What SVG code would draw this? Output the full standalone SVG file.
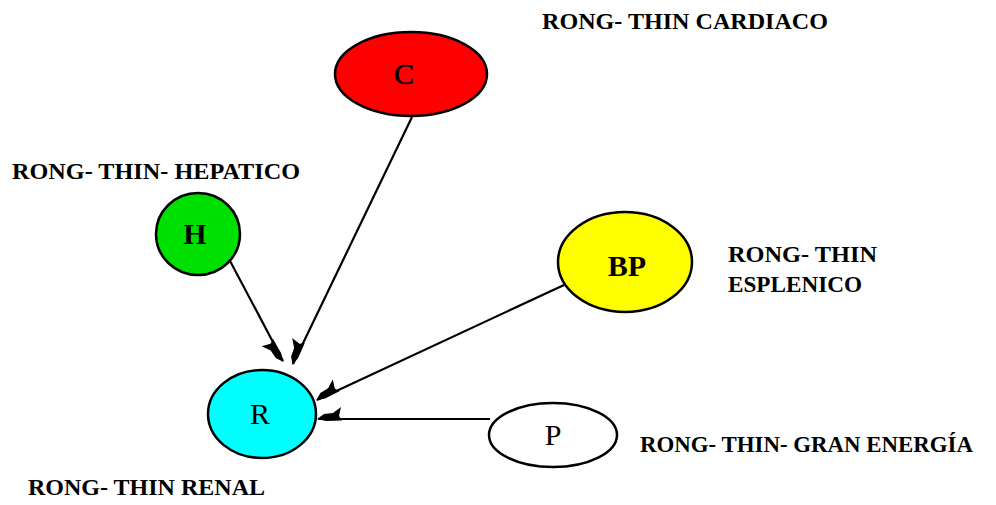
<svg xmlns="http://www.w3.org/2000/svg" width="996" height="505" viewBox="0 0 996 505">
  <style>
    .node { stroke: #000; stroke-width: 2.5; }
    .edge { stroke: #000; stroke-width: 2.2; fill: none; marker-end: url(#barb); }
    .lbl { font-family: "Liberation Serif", "Times New Roman", serif; font-weight: bold; font-size: 23px; fill: #000; }
    .ltr { font-family: "Liberation Serif", "Times New Roman", serif; font-size: 30px; fill: #000; text-anchor: middle; }
  </style>
  <defs>
    <!-- one-sided filled barb at the tip of each connector -->
    <marker id="barb" markerUnits="userSpaceOnUse" markerWidth="40" markerHeight="40" refX="0" refY="0" viewBox="-30 -15 40 30" orient="auto" overflow="visible">
      <path d="M1,0 L-6,5 L-15,6 L-23,12 L-21,3 L-24,-1.5 L-8,-2 Z" fill="#000"/>
    </marker>
  </defs>
  <rect width="996" height="505" fill="#fff"/>

  <g id="edges">
    <line class="edge" x1="412" y1="117" x2="293" y2="364"/>
    <line class="edge" x1="229" y1="259" x2="283" y2="361"/>
    <line class="edge" x1="564" y1="285" x2="317" y2="400"/>
    <line class="edge" x1="490" y1="419" x2="318" y2="419"/>
  </g>

  <g id="node-C">
    <ellipse class="node" cx="411" cy="74" rx="76" ry="42" fill="#ff0000"/>
    <text class="ltr" x="404" y="84" font-size="36" stroke="#000" stroke-width="0.6">C</text>
  </g>
  <g id="node-H">
    <ellipse class="node" cx="198" cy="234" rx="42" ry="41" fill="#00e000"/>
    <text class="ltr" x="195" y="244" font-weight="bold">H</text>
  </g>
  <g id="node-BP">
    <ellipse class="node" cx="625" cy="262" rx="67" ry="50" fill="#ffff00"/>
    <text class="ltr" x="627" y="276" font-weight="bold">BP</text>
  </g>
  <g id="node-R">
    <ellipse class="node" cx="262" cy="414" rx="54" ry="44" fill="#00ffff"/>
    <text class="ltr" x="260" y="424">R</text>
  </g>
  <g id="node-P">
    <ellipse class="node" cx="553" cy="435" rx="64" ry="32" fill="#ffffff"/>
    <text class="ltr" x="553" y="445">P</text>
  </g>

  <g id="labels">
    <text class="lbl" x="542" y="29" textLength="286" lengthAdjust="spacingAndGlyphs">RONG- THIN CARDIACO</text>
    <text class="lbl" x="12" y="179" textLength="288" lengthAdjust="spacingAndGlyphs">RONG- THIN- HEPATICO</text>
    <text class="lbl" x="728" y="262" textLength="149" lengthAdjust="spacingAndGlyphs">RONG- THIN</text>
    <text class="lbl" x="728" y="292" textLength="134" lengthAdjust="spacingAndGlyphs">ESPLENICO</text>
    <text class="lbl" x="640" y="452" textLength="333" lengthAdjust="spacingAndGlyphs">RONG- THIN- GRAN ENERGÍA</text>
    <text class="lbl" x="28" y="495" textLength="237" lengthAdjust="spacingAndGlyphs">RONG- THIN RENAL</text>
  </g>
</svg>
